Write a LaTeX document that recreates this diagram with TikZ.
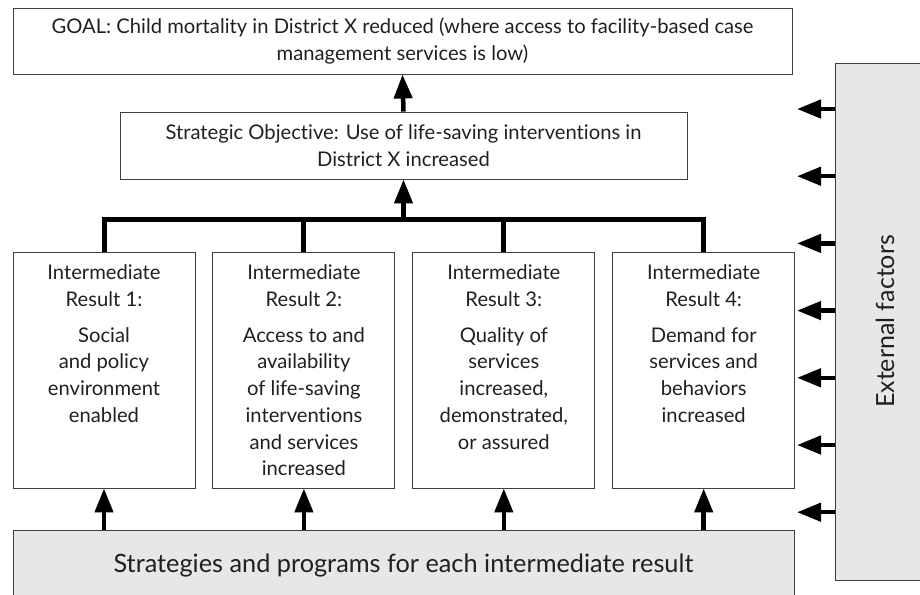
\documentclass[tikz,border=0pt]{standalone}
\usepackage{fontspec}
\setmainfont[Ligatures=NoCommon]{Lato}
\usepackage{tikz}
\usetikzlibrary{
  arrows.meta,
  positioning,
}
\definecolor{boxgray}{RGB}{230,231,232}
\definecolor{inkgray}{RGB}{35,31,32}
\tikzstyle{box} = [
  draw=black!75,
  line width=0.9pt,
  rectangle,
  inner sep=0pt,
  align=center,
  text=inkgray,
]
\tikzstyle{irbox} = [
  minimum width=182,
  minimum height=236,
]
\tikzstyle{arrow} = [
  -{Triangle[length=24pt,width=18pt]},
  line width=4.5pt,
  black,
]
\tikzstyle{bus} = [
  line width=5pt,
  black,
]
\newcommand{\irtext}[2]{\vbox to 210pt{\hsize=180pt\parindent=0pt\parskip=0pt\centering #1\par\vskip 9pt #2\par\vfil}}

\begin{document}
\begin{tikzpicture}[x=1pt,y=-1pt,node distance=0mm and 17pt,font=\fontsize{20.2}{26.7}\selectfont]
        \useasboundingbox (0,0) rectangle (920,594);
        \node[box,minimum width=779,minimum height=66]    (g0) at (402.5,41)   {GOAL: Child mortality in District X reduced (where access to facility-based case\\management services is low)};
        \node[box,minimum width=567,minimum height=67]    (s0) at (403.5,145.5) {Strategic Objective: Use of life-saving interventions in\\District X increased};

        \node[box,irbox]    (r1) at (104,370)  {\irtext{Intermediate\\Result 1:}{Social\\and policy\\environment\\enabled}};
        \node[box,irbox]    (r2) [right=of r1] {\irtext{Intermediate\\Result 2:}{Access to and\\availability\\of life-saving\\interventions\\and services\\increased}};
        \node[box,irbox]    (r3) [right=of r2] {\irtext{Intermediate\\Result 3:}{Quality of\\services\\increased,\\demonstrated,\\or assured}};
        \node[box,irbox]    (r4) [right=of r3] {\irtext{Intermediate\\Result 4:}{Demand for\\services and\\behaviors\\increased}};

        \node[box,fill=boxgray,minimum width=781,minimum height=70,font=\fontsize{25.3}{30}\selectfont]    (b0) at (403.5,565) {Strategies and programs for each intermediate result};
        \node[box,fill=boxgray,rotate=90,minimum width=517,minimum height=100,font=\fontsize{25}{30}\selectfont]    (e0) at (885,321.5) {External factors};

        % results up to the objective
        \coordinate (bus) at (s0.south |- 0,219);
        \draw[bus] (r1.north) |- (bus) -| (r4.north);
        \draw[bus] (r2.north) -- (r2.north |- bus);
        \draw[bus] (r3.north) -- (r3.north |- bus);
        \draw[arrow] (bus) -- (s0.south);
        \draw[arrow] (s0.north) -- (g0.south);

        % strategies up to each result
        \foreach \i in {1,...,4}
            \draw[arrow] (b0.north -| r\i.south) -- (r\i.south);

        % external factors
        \foreach \i in {0,...,6} {
            \coordinate (t\i) at (797,109+67.2*\i);
            \draw[arrow] (e0.north |- t\i) -- (t\i);
        }
    \end{tikzpicture}
\end{document}
